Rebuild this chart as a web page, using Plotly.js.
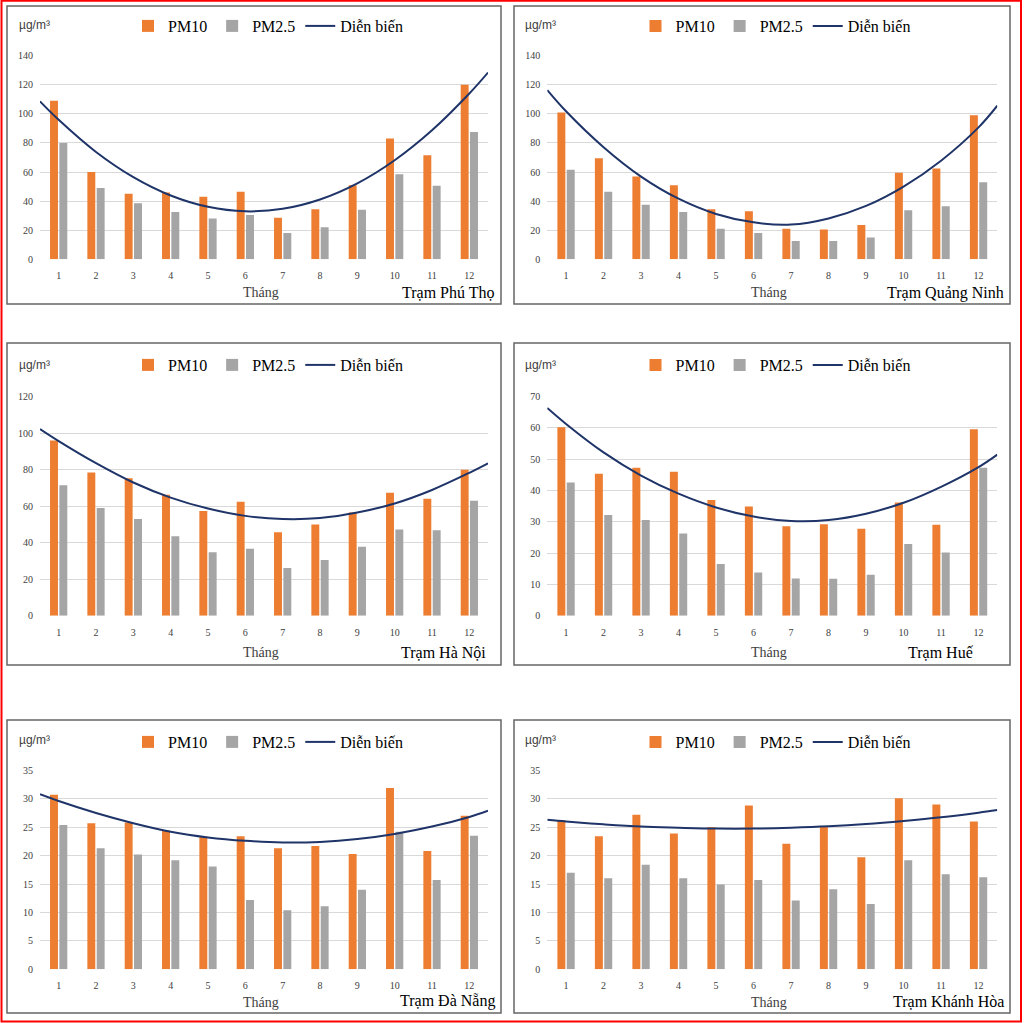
<!DOCTYPE html>
<html><head><meta charset="utf-8">
<script src="https://cdn.plot.ly/plotly-3.0.1.min.js"></script>
<style>html,body{margin:0;padding:0;background:#fff;overflow:hidden}#chart{width:1024px;height:1023px}</style>
</head><body><div id="chart"></div><script>
// ---------- data ----------
const months = [1,2,3,4,5,6,7,8,9,10,11,12];
const trendX = [0.5,1,2,3,4,5,6,7,8,9,10,11,12,12.5];
const seriesNames = ['PM10','PM2.5','Diễn biến'];
const xAxisTitle = 'Tháng';
const unitLabel = 'µg/m³';
const stations = ['Trạm Phú Thọ','Trạm Quảng Ninh','Trạm Hà Nội','Trạm Huế','Trạm Đà Nẵng','Trạm Khánh Hòa'];

const phuThoPM10  = [109,60,45,46,43,46.5,28.5,34.5,51,83,71.5,120];
const phuThoPM25  = [80,49,38.5,32.5,28,30.5,18,22,34,58.5,50.5,87.5];
const phuThoTrend = [108.6,95.9,73.8,56.5,43.9,36.1,33.0,34.7,41.1,52.2,68.1,88.7,114.0,128.4];

const quangNinhPM10  = [101,69.5,57,51,34.5,33,21,20.5,23.5,59.5,62.5,99];
const quangNinhPM25  = [61.5,46.5,37.5,32.5,21,18,12.5,12.5,15,33.7,36.5,53];
const quangNinhTrend = [116.4,101.8,77.1,56.9,41.7,31.2,25.4,23.9,28.1,36.7,50.0,67.8,90.7,105.6];

const haNoiPM10  = [96,78.5,75.3,66.3,57.4,62.5,45.7,50,56.6,67.4,64.1,80];
const haNoiPM25  = [71.5,59,53,43.5,34.7,36.7,26.1,30.5,37.8,47.3,46.8,63];
const haNoiTrend = [102.3,95.7,83.6,73.0,64.7,58.7,54.7,53.0,53.5,56.5,61.5,68.9,78.3,83.5];

const huePM10  = [60.2,45.4,47.3,46,37,34.9,28.6,29.2,27.8,36.2,29.1,59.6];
const huePM25  = [42.6,32.2,30.6,26.3,16.5,13.8,11.9,11.8,13.1,22.9,20.2,47.3];
const hueTrend = [66.4,61.3,52.2,44.8,39.0,34.6,31.7,30.3,30.6,32.6,36.1,41.2,47.5,51.5];

const daNangPM10  = [30.7,25.7,25.8,24.4,23.3,23.4,21.3,21.7,20.3,31.9,20.8,27];
const daNangPM25  = [25.4,21.3,20.2,19.2,18.1,12.2,10.4,11.1,14,24.2,15.7,23.5];
const daNangTrend = [30.8,29.6,27.5,25.7,24.2,23.2,22.6,22.3,22.4,22.9,23.8,25.1,26.8,27.9];

const khanhHoaPM10  = [26.2,23.4,27.2,23.9,25,28.8,22.1,25.2,19.7,30.1,29,26];
const khanhHoaPM25  = [17,16,18.4,16,14.9,15.7,12.1,14.1,11.5,19.2,16.7,16.2];
const khanhHoaTrend = [26.3,26.0,25.5,25.1,24.9,24.75,24.75,24.9,25.15,25.55,26.1,26.75,27.55,28.0];

const yMax  = [140,140,120,70,35,35];
const yStep = [20,20,20,10,5,5];

const pm10All  = [phuThoPM10, quangNinhPM10, haNoiPM10, huePM10, daNangPM10, khanhHoaPM10];
const pm25All  = [phuThoPM25, quangNinhPM25, haNoiPM25, huePM25, daNangPM25, khanhHoaPM25];
const trendAll = [phuThoTrend, quangNinhTrend, haNoiTrend, hueTrend, daNangTrend, khanhHoaTrend];

// ---------- styling / geometry ----------
const W = 1024, H = 1023;
const fx = p => p / W, fy = p => 1 - p / H;
const C_ORANGE = '#ED7D31', C_GRAY = '#A5A5A5', C_LINE = '#1F3468';
const SERIF = 'Liberation Serif, Times New Roman, serif';
const SANS = 'Liberation Sans, Arial, sans-serif';

const plotCols = [[40,488],[547.3,997.3]];
const plotRows = [[55.7,259.3],[396.7,615.7],[770.3,969.3]];
const boxCols = [[7,501],[514,1010]];
const boxRows = [[6,304],[343,665],[720,1013]];
const legendX = [128, 635.5];
const legendY = [26, 365, 742];
const unitX = [17, 523];
const unitY = [25, 365, 740];
const thangX = [260.5, 769];
const thangY = [293, 652, 1002];
const stationRight = [496, 1006, 488, 976, 497, 1006];
const stationY = [293, 293, 652, 652, 1001, 1001];

const traces = [];
const layout = {
  width: W, height: H,
  margin: {l:0, r:0, t:0, b:0},
  font: {family: SERIF, size: 16, color: '#000'},
  paper_bgcolor: '#fff', plot_bgcolor: 'rgba(0,0,0,0)',
  barmode: 'group', bargap: 0.5, bargroupgap: 0.15,
  showlegend: true,
  shapes: [], annotations: []
};

for (let i = 0; i < 6; i++) {
  const col = i % 2, row = Math.floor(i / 2);
  const n = i === 0 ? '' : String(i + 1);
  const xa = 'x' + n, ya = 'y' + n;
  const lg = 'legend' + n;
  traces.push({type:'bar', x: months, y: pm10All[i], name: seriesNames[0], xaxis: xa, yaxis: ya,
    marker:{color:C_ORANGE}, legend: lg, hoverinfo:'skip'});
  traces.push({type:'bar', x: months, y: pm25All[i], name: seriesNames[1], xaxis: xa, yaxis: ya,
    marker:{color:C_GRAY}, legend: lg, hoverinfo:'skip'});
  traces.push({type:'scatter', mode:'lines', x: trendX, y: trendAll[i], name: seriesNames[2], xaxis: xa, yaxis: ya,
    line:{color:C_LINE, width:2, shape:'spline', smoothing:1}, legend: lg, hoverinfo:'skip', cliponaxis:false});

  layout['xaxis' + n] = {
    domain: [fx(plotCols[col][0]), fx(plotCols[col][1])], anchor: ya,
    range: [0.5, 12.5], tickvals: months, ticktext: months.map(String),
    showgrid: false, zeroline: false, showline: false, ticks: '',
    ticklabelstandoff: 9,
    tickfont: {family: SERIF, size: 10, color: '#404040'}, fixedrange: true
  };
  layout['yaxis' + n] = {
    domain: [fy(plotRows[row][1]), fy(plotRows[row][0])], anchor: xa,
    range: [0, yMax[i]], dtick: yStep[i], tick0: 0,
    showgrid: true, gridcolor: '#D9D9D9', gridwidth: 1,
    zeroline: false, showline: false, ticks: '', ticklabelstandoff: 6,
    tickfont: {family: SERIF, size: 10, color: '#404040'}, fixedrange: true
  };
  layout[lg] = {
    x: fx(legendX[col]), y: fy(legendY[row]), xanchor: 'left', yanchor: 'middle',
    orientation: 'h', bgcolor: 'rgba(0,0,0,0)', borderwidth: 0,
    font: {family: SERIF, size: 16, color: '#000'}, itemwidth: 30, traceorder: 'normal'
  };
  // panel frame
  layout.shapes.push({type:'rect', xref:'paper', yref:'paper',
    x0: fx(boxCols[col][0]), x1: fx(boxCols[col][1]), y0: fy(boxRows[row][1]), y1: fy(boxRows[row][0]),
    line:{color:'#666666', width:1.5}, fillcolor:'rgba(0,0,0,0)', layer:'below'});
  // unit label
  layout.annotations.push({xref:'paper', yref:'paper', x: fx(unitX[col]), y: fy(unitY[row]),
    xanchor:'left', yanchor:'middle', showarrow:false, text: unitLabel,
    font:{family: SANS, size: 12, color:'#404040'}});
  // axis title "Tháng"
  layout.annotations.push({xref:'paper', yref:'paper', x: fx(thangX[col]), y: fy(thangY[row]),
    xanchor:'center', yanchor:'middle', showarrow:false, text: xAxisTitle,
    font:{family: SERIF, size: 14, color:'#404040'}});
  // station name
  layout.annotations.push({xref:'paper', yref:'paper', x: fx(stationRight[i]), y: fy(stationY[i]),
    xanchor:'right', yanchor:'middle', showarrow:false, text: stations[i],
    font:{family: SERIF, size: 16, color:'#000'}});
}
// outer red frame
layout.shapes.push({type:'rect', xref:'paper', yref:'paper',
  x0: fx(1.5), x1: fx(1021), y0: fy(1021.5), y1: fy(0.8),
  line:{color:'#FF0000', width:2}, fillcolor:'rgba(0,0,0,0)'});

Plotly.newPlot('chart', traces, layout, {displayModeBar:false, staticPlot:true});
</script></body></html>
